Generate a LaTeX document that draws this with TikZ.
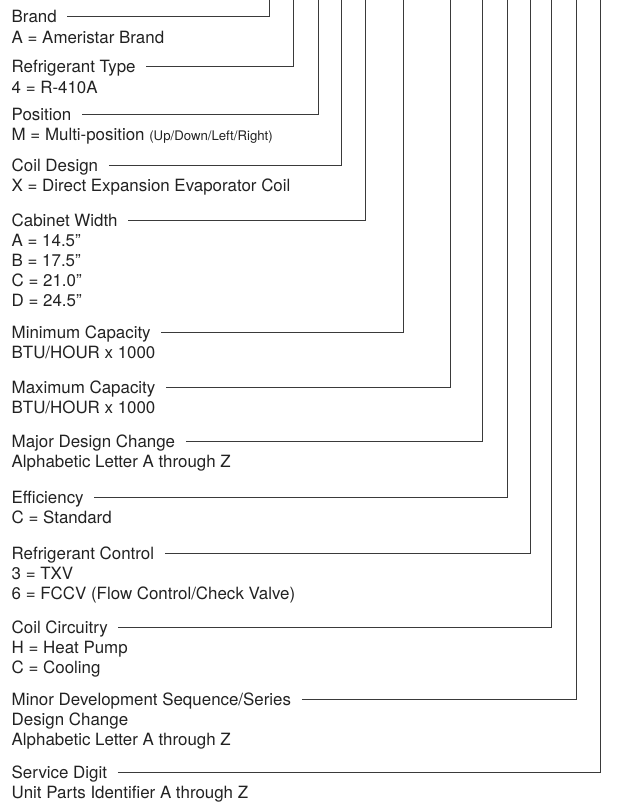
\documentclass[tikz,border=0pt]{standalone}
\usepackage{fontspec}
\setmainfont{TeX Gyre Heros}
\usetikzlibrary{positioning}
\definecolor{ink}{HTML}{222222}
\definecolor{rule}{HTML}{3A3A3A}
\tikzset{
  field/.style={anchor=west, inner sep=0pt, text height=12.1pt, text depth=0pt, text=ink, font=\fontsize{16.9}{20}\selectfont},
  values/.style={inner sep=0pt, align=left, text=ink, font=\fontsize{16.9}{20}\selectfont},
  lead/.style={draw=rule, line width=1pt, shorten <=10.5pt}
}
\newcommand{\smallnote}[1]{{\fontsize{13.2}{20}\selectfont #1}}
\begin{document}
\begin{tikzpicture}[x=1pt, y=-1pt]
  \useasboundingbox (0,0) rectangle (619,804);
  % one field per digit of the model number
  \foreach \i/\y/\x/\ttl/\vals in {
      1/16.7/269.5/{Brand}/{A = Ameristar Brand},
      2/66.7/293/{Refrigerant Type}/{4 = R-410A},
      3/114.3/318/{Position}/{M = Multi-position \smallnote{(Up/Down/Left/Right)}},
      4/165/341.5/{Coil Design}/{X = Direct Expansion Evaporator Coil},
      5/220/365/{Cabinet Width}/{A = 14.5”\\B = 17.5”\\C = 21.0”\\D = 24.5”},
      6/332/403/{Minimum Capacity}/{BTU/HOUR x 1000},
      7/387/450/{Maximum Capacity}/{BTU/HOUR x 1000},
      8/441/482/{Major Design Change}/{Alphabetic Letter A through Z},
      9/497/507/{Efficiency}/{C = Standard},
      10/553/530/{Refrigerant Control}/{3 = TXV\\6 = FCCV (Flow Control/Check Valve)},
      11/627/551/{Coil Circuitry}/{H = Heat Pump\\C = Cooling},
      12/699/576/{Minor Development Sequence/Series}/{Design Change\\Alphabetic Letter A through Z},
      13/772/600/{Service Digit}/{Unit Parts Identifier A through Z}} {
    \node[field] (t\i) at (11.5,\y) {\ttl};
    \node[values, below right=7.9pt and 0pt of t\i.south west] (v\i) {\vals};
    \coordinate (top\i) at (\x,0);
    \draw[lead] (t\i.east) -| (top\i);
  }
\end{tikzpicture}
\end{document}
